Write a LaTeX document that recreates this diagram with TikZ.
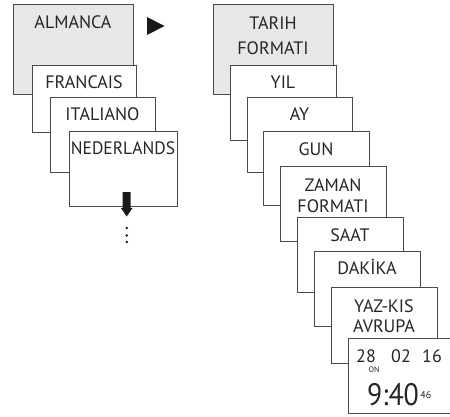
\documentclass[tikz,border=0pt]{standalone}
\usepackage{fontspec}
\setmainfont{PT Sans}
\definecolor{boxgray}{HTML}{E6E7E8}
\definecolor{edge}{HTML}{4A4A4A}
\begin{document}
\begin{tikzpicture}[x=1pt,y=-1pt,
  card/.style={draw=edge,line width=1.1pt,fill=white,inner sep=0pt,anchor=north west},
  gcard/.style={card,fill=boxgray},
  lbl/.style={inner sep=0pt,anchor=base,font=\fontsize{18}{20}\selectfont,text=black!85}]
\useasboundingbox (0,0) rectangle (450,416);
% left column
\node[gcard,minimum width=120pt,minimum height=90pt] (alm) at (13,4) {};
\node[lbl] (talm) at (73,28) {ALMANCA};
\node[card,minimum width=104pt,minimum height=67pt] (fra) at (32,65) {};
\node[lbl] (tfra) at (84,88) {FRANCAIS};
\node[card,minimum width=105pt,minimum height=75pt] (ita) at (50,97) {};
\node[lbl] (tita) at (102.5,120) {ITALIANO};
\node[card,minimum width=108pt,minimum height=75pt] (ned) at (69,131) {};
\node[lbl] (tned) at (123,154) {\scalebox{0.97}[1]{NEDERLANDS}};
% down arrow
\fill[black!90] (122.7,192) -- (130.7,192) -- (130.7,208) -- (132.5,208) -- (126.7,216.5) -- (120.9,208) -- (122.7,208) -- cycle;
\foreach \yy in {228,235.5,242} \fill[black!90] (126.7,\yy) circle (1.4pt);
% triangle
\fill[black!90] (147,17) -- (164.5,26) -- (147,35) -- cycle;
% right column
\node[gcard,minimum width=120pt,minimum height=90pt] (tar) at (213,4) {};
\node[lbl] (ttar1) at (273,29) {TARIH};
\node[lbl] (ttar2) at (273,54) {FORMATI};
\node[card,minimum width=106pt,minimum height=75pt] (yil) at (230,65) {};
\node[lbl] (tyil) at (283,88) {YIL};
\node[card,minimum width=105pt,minimum height=75pt] (ay) at (247,97) {};
\node[lbl] (tay) at (299.5,120) {AY};
\node[card,minimum width=106pt,minimum height=74pt] (gun) at (263,131) {};
\node[lbl] (tgun) at (316,155) {GUN};
\node[card,minimum width=106pt,minimum height=75pt] (zam) at (280,166) {};
\node[lbl] (tzam1) at (333,191) {ZAMAN};
\node[lbl] (tzam2) at (333,212) {FORMATI};
\node[card,minimum width=106pt,minimum height=75pt] (saat) at (297,217) {};
\node[lbl] (tsaat) at (350,241) {SAAT};
\node[card,minimum width=106pt,minimum height=75pt] (dak) at (314,251) {};
\node[lbl] (tdak) at (367,274) {DAKİKA};
\node[card,minimum width=106pt,minimum height=76pt] (yaz) at (331,287) {};
\node[lbl] (tyaz1) at (384,312) {YAZ-KIS};
\node[lbl] (tyaz2) at (384,332) {AVRUPA};
\node[card,minimum width=101.5pt,minimum height=75pt] (disp) at (348,338) {};
\node[lbl,anchor=base west] (d28) at (356,362) {28};
\node[lbl,anchor=base west] (d02) at (391,362) {02};
\node[lbl,anchor=base west] (d16) at (422,362) {16};
\node[inner sep=0pt,anchor=base,font=\fontsize{8}{9}\selectfont,text=black!85] (don) at (374,372.5) {ON};
\node[inner sep=0pt,anchor=base west,font=\fontsize{31}{34}\selectfont,text=black!85] (dtime) at (367,405) {\scalebox{0.9}[1]{9:40}};
\node[inner sep=0pt,anchor=base west,font=\fontsize{10}{12}\selectfont,text=black!85] (dsec) at ([xshift=1pt,yshift=7pt]dtime.base east) {46};
\end{tikzpicture}
\end{document}
